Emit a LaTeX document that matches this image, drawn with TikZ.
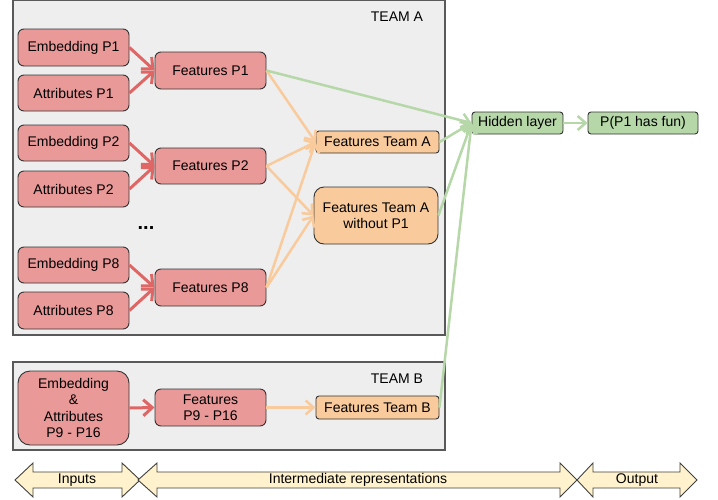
\documentclass[tikz,border=0pt]{standalone}
\usepackage{fontspec}
\setmainfont{Liberation Sans}
\usetikzlibrary{arrows.meta}
\definecolor{redfill}{HTML}{EA9999}
\definecolor{redline}{HTML}{E06666}
\definecolor{orfill}{HTML}{F9CB9C}
\definecolor{orline}{HTML}{F9CB9C}
\definecolor{grfill}{HTML}{B6D7A8}
\definecolor{grline}{HTML}{B6D7A8}
\definecolor{teambg}{HTML}{EEEEEE}
\definecolor{yelfill}{HTML}{FFF2CC}
\begin{document}
\begin{tikzpicture}[x=1pt,y=-1pt,
  font=\fontsize{14}{16.5}\selectfont,
  box/.style={draw=black!80, line width=0.9pt, inner sep=0pt, align=center},
  redbox/.style={box, fill=redfill, rounded corners=6pt},
  orbox/.style={box, fill=orfill, rounded corners=3pt},
  grbox/.style={box, fill=grfill, rounded corners=3pt},
  team/.style={draw=black!65, line width=1.2pt, fill=teambg},
  redarr/.style={draw=redline, line width=3pt, -{Straight Barb[length=9pt,width=16pt]}},
  orarr/.style={draw=orline, line width=2.5pt, -{Straight Barb[length=8pt,width=14pt]}},
  grarr/.style={draw=grline, line width=2.5pt, -{Straight Barb[length=8pt,width=14pt]}},
  bigarrow/.style={draw=black!75, line width=0.9pt, fill=yelfill}
]
\useasboundingbox (0,0) rectangle (718,499);
% team boxes
\draw[team] (13,0.6) rectangle (445,335);
\node (tla) at (397,17) {TEAM A};
\draw[team] (13,362) rectangle (445,450);
\node (tlb) at (397,379) {TEAM B};

% Team A nodes
\node[redbox, minimum width=111pt, minimum height=37pt] (ep1) at (73.5,47.5) {Embedding P1};
\node[redbox, minimum width=111pt, minimum height=36pt] (ap1) at (73.5,93) {Attributes P1};
\node[redbox, minimum width=111pt, minimum height=37pt] (fp1) at (210.5,70.5) {Features P1};
\node[redbox, minimum width=111pt, minimum height=36pt] (ep2) at (73.5,143) {Embedding P2};
\node[redbox, minimum width=111pt, minimum height=36pt] (ap2) at (73.5,189) {Attributes P2};
\node[redbox, minimum width=111pt, minimum height=36pt] (fp2) at (210.5,166) {Features P2};
\node[font=\fontsize{20}{20}\selectfont\bfseries] (dots) at (146,228) {...};
\node[redbox, minimum width=111pt, minimum height=36pt] (ep8) at (73.5,265) {Embedding P8};
\node[redbox, minimum width=111pt, minimum height=37pt] (ap8) at (73.5,310.5) {Attributes P8};
\node[redbox, minimum width=111pt, minimum height=37pt] (fp8) at (210.5,287.5) {Features P8};
\node[orbox, minimum width=123pt, minimum height=22pt] (fta) at (377.5,142) {Features Team A};
\node[orbox, rounded corners=10pt, minimum width=124pt, minimum height=57pt] (ftw) at (376,215.5) {Features Team A\\without P1};
\node[grbox, minimum width=91pt, minimum height=22pt] (hid) at (517.5,123) {Hidden layer};
\node[grbox, minimum width=110pt, minimum height=22pt] (out) at (643,123) {P(P1 has fun)};

% Team B nodes
\node[redbox, rounded corners=12pt, minimum width=111pt, minimum height=74pt] (eab) at (73.5,408) {Embedding\\\&\\Attributes\\P9 - P16};
\node[redbox, minimum width=111pt, minimum height=37pt] (fpb) at (210.5,407.5) {Features\\P9 - P16};
\node[orbox, minimum width=123pt, minimum height=23pt] (ftb) at (377.5,407.5) {Features Team B};

% red arrows
\draw[redarr] (ep1.east) -- (fp1.west);
\draw[redarr] (ap1.east) -- (fp1.west);
\draw[redarr] (ep2.east) -- (fp2.west);
\draw[redarr] (ap2.east) -- (fp2.west);
\draw[redarr] (ep8.east) -- (fp8.west);
\draw[redarr] (ap8.east) -- (fp8.west);
\draw[redarr] (eab.east) -- (fpb.west);

% orange arrows
\draw[orarr] (fp1.east) -- (fta.west);
\draw[orarr] (fp2.east) -- (fta.west);
\draw[orarr] (fp2.east) -- (ftw.west);
\draw[orarr] (fp8.east) -- (fta.west);
\draw[orarr] (fp8.east) -- (ftw.west);
\draw[orarr] (fpb.east) -- (ftb.west);

% green arrows
\draw[grarr] (fp1.east) -- (hid.west);
\draw[grarr] (fta.east) -- (hid.west);
\draw[grarr] (ftw.east) -- (hid.west);
\draw[grarr] (ftb.east) -- (hid.west);
\draw[grarr] (hid.east) -- (out.west);

% bottom double arrows
\draw[bigarrow] (15,480) -- (33,463) -- (33,472) -- (122,472) -- (122,463) -- (140,480) -- (122,497) -- (122,488) -- (33,488) -- (33,497) -- cycle;
\draw[bigarrow] (138,480) -- (157,463) -- (157,472) -- (560,472) -- (560,463) -- (577,480) -- (560,497) -- (560,488) -- (157,488) -- (157,497) -- cycle;
\draw[bigarrow] (577,480) -- (593,463) -- (593,472) -- (680,472) -- (680,463) -- (697,480) -- (680,497) -- (680,488) -- (593,488) -- (593,497) -- cycle;
\node (lin) at (77,480) {Inputs};
\node (lint) at (358,480) {Intermediate representations};
\node (lout) at (637,480) {Output};
\end{tikzpicture}
\end{document}
